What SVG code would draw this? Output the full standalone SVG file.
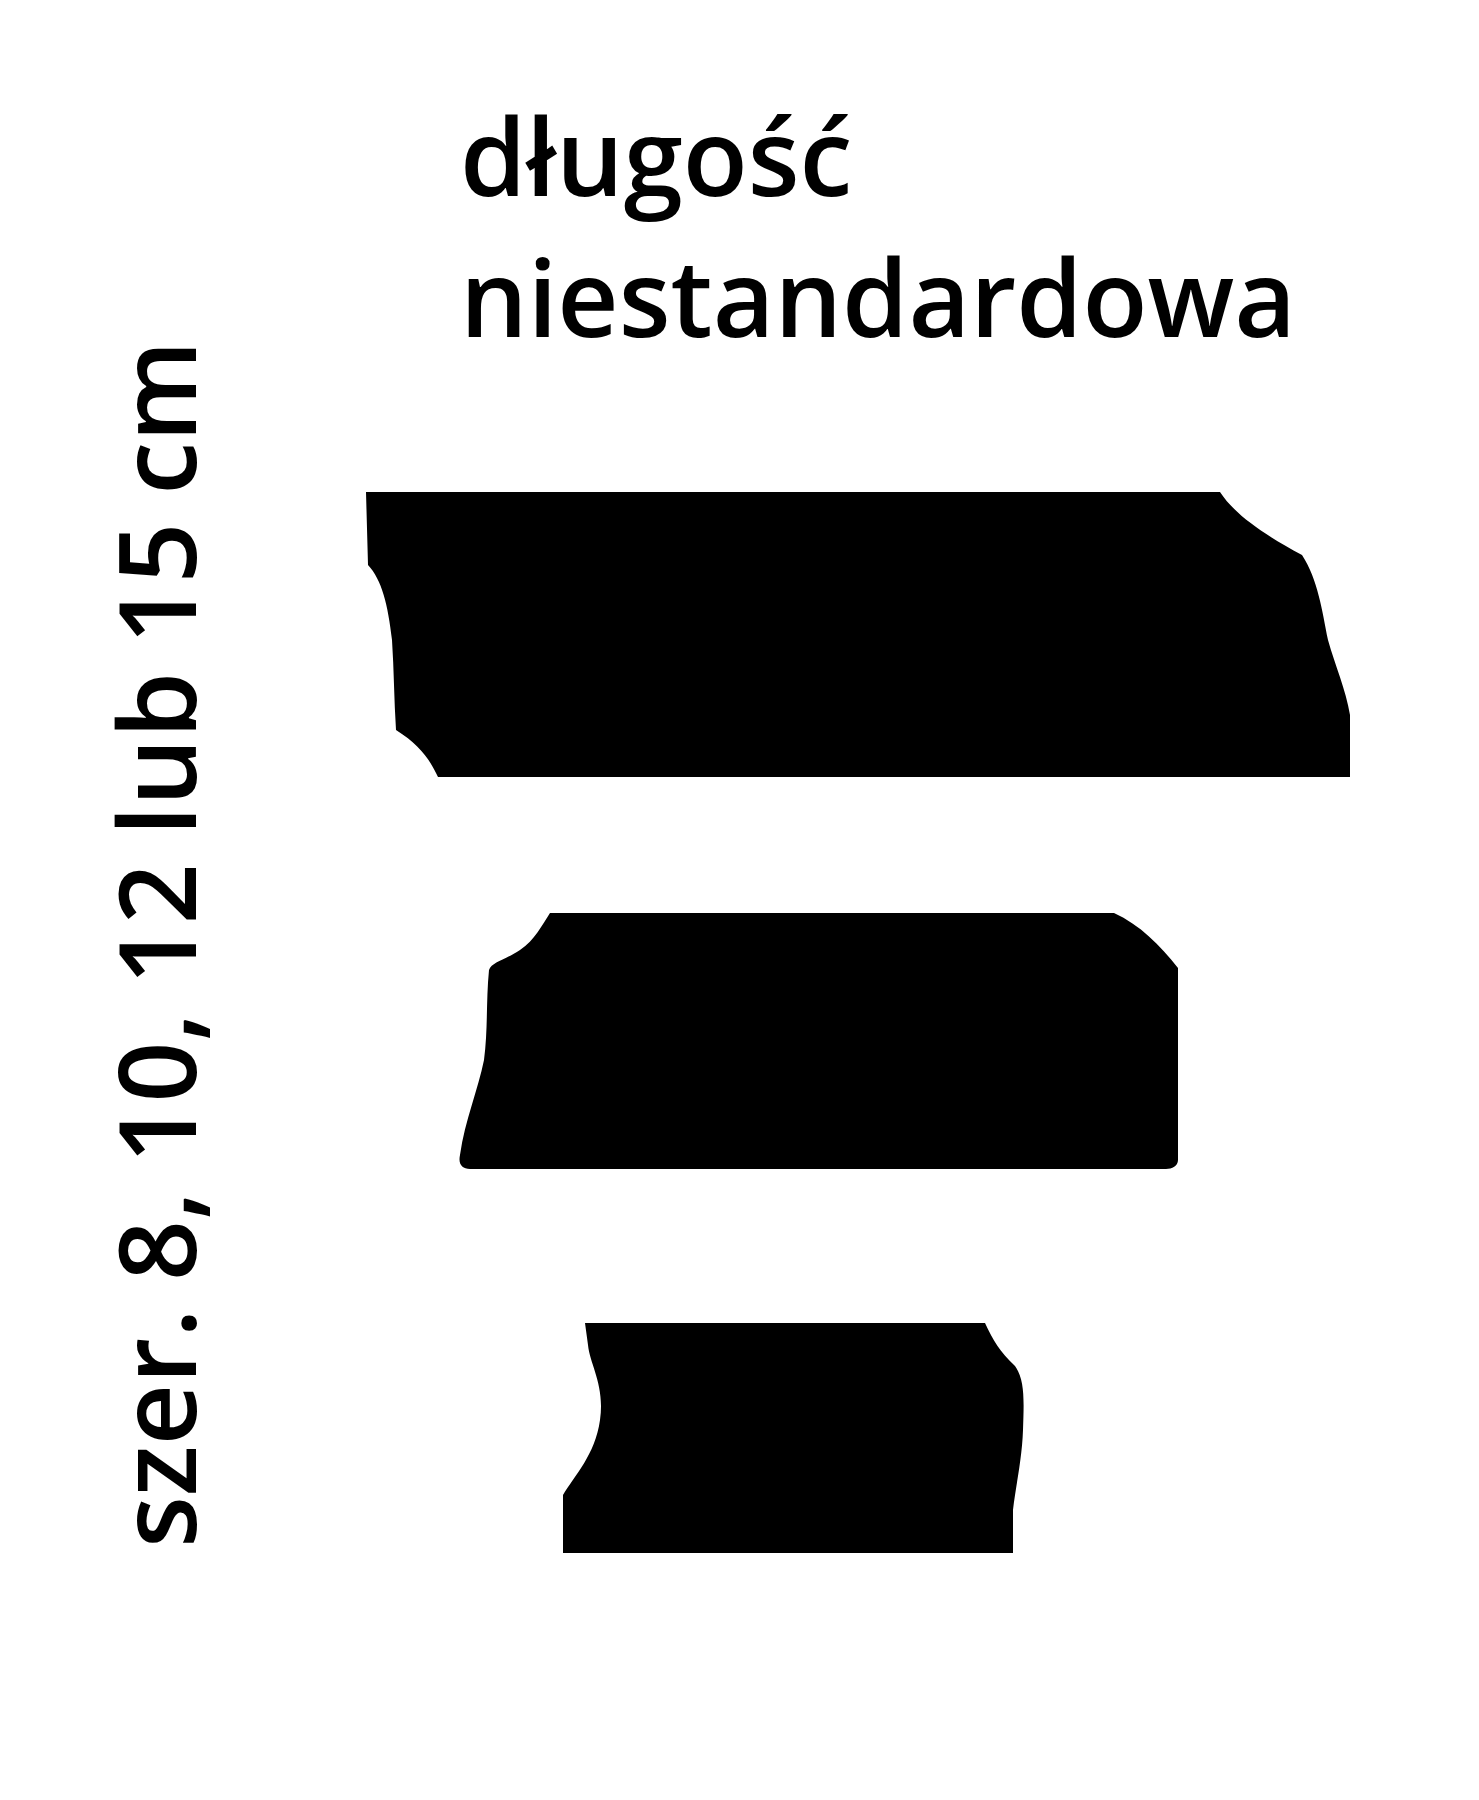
<svg xmlns="http://www.w3.org/2000/svg" width="1479" height="1800" viewBox="0 0 1479 1800">
<style>
.t{font-family:"Open Sans","Noto Sans",sans-serif;font-size:106.5px;font-weight:600;fill:#000}
.s{fill:#000;stroke:none}
</style>
<rect width="1479" height="1800" fill="#fff"/>
<g id="title">
<text class="t" x="460" y="196">długość</text>
<text class="t" x="460" y="337">niestandardowa</text>
</g>
<g id="width-label">
<text class="t" transform="translate(196,1548) rotate(-90)">szer. 8, 10, 12 lub 15 cm</text>
</g>
<g id="board-1">
<path class="s" d="M366,492 L1220,492 C1235,515 1265,535 1302,555 C1318,580 1322,610 1328,640 C1335,665 1346,690 1350,715 L1350,777 L438,777 C430,760 420,745 396,730 C394,700 394,670 392,640 C388,605 382,580 368,565 Z"/>
</g>
<g id="board-2">
<path class="s" d="M550,913 L1114,913 C1140,925 1160,945 1178,968 L1178,1160 C1178,1166 1172,1169 1166,1169 L470,1169 C462,1169 458,1164 460,1155 C465,1120 478,1090 484,1060 C488,1030 486,1000 489,970 C492,962 505,960 520,950 C535,940 542,925 550,913 Z"/>
</g>
<g id="board-3">
<path class="s" d="M585,1323 L985,1323 C993,1340 1000,1352 1015,1366 C1025,1380 1024,1400 1023,1430 C1022,1460 1015,1490 1013,1510 L1013,1553 L563,1553 L563,1495 C575,1475 595,1455 600,1420 C605,1385 590,1365 588,1345 Z"/>
</g>
</svg>
